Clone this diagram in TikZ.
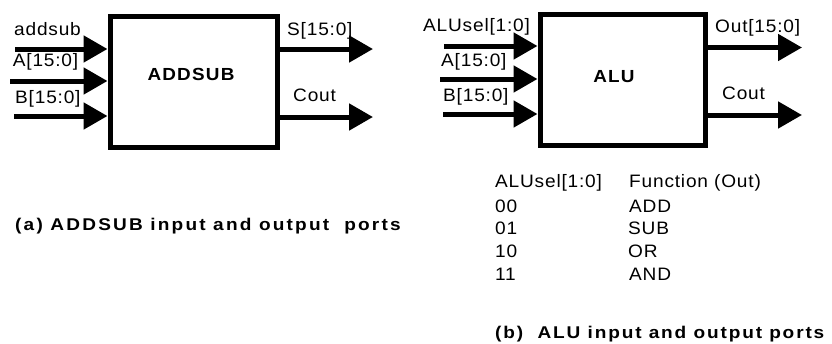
\documentclass[tikz,border=0pt]{standalone}
\usepackage{fontspec}
\newfontfamily\labfont{Liberation Sans}[FakeStretch=1.06, LetterSpace=4.5]
\newfontfamily\ttlfont{Liberation Sans}[FakeStretch=1.08, LetterSpace=7]
\newfontfamily\capfont{Liberation Sans}[FakeStretch=1.12, LetterSpace=11]
\newfontfamily\capafont{Liberation Sans}[FakeStretch=1.12, LetterSpace=13]
\usetikzlibrary{arrows.meta}
\begin{document}
\begin{tikzpicture}[x=1pt,y=-1pt,
  lab/.style={font=\labfont\fontsize{18pt}{21pt}\selectfont, inner sep=0pt, anchor=base west},
  ttl/.style={font=\ttlfont\bfseries\fontsize{17.5pt}{20pt}\selectfont, inner sep=0pt},
  captext/.style={font=\capfont\bfseries\fontsize{17pt}{20pt}\selectfont, inner sep=0pt, anchor=base west},
  captexta/.style={font=\capafont\bfseries\fontsize{17pt}{20pt}\selectfont, inner sep=0pt, anchor=base west},
  blk/.style={draw, line width=5pt, minimum height=131pt, inner sep=0pt},
  arr/.style={line width=5pt, -{Triangle[length=24pt,width=26pt]}}]
\useasboundingbox (0,0) rectangle (832,343);

% ---------- (a) ADDSUB ----------
\node[blk, minimum width=167pt] (addsubbox) at (193.5,81.5) {};
\node[ttl] (addsubtitle) at (191,74) {ADDSUB};

\coordinate (ia1) at (15,49);
\coordinate (ia2) at (10,81);
\coordinate (ia3) at (14,116);
\draw[arr] (ia1) -- (ia1 -| addsubbox.west);
\draw[arr] (ia2) -- (ia2 -| addsubbox.west);
\draw[arr] (ia3) -- (ia3 -| addsubbox.west);

\coordinate (oa1) at (373,49);
\coordinate (oa2) at (373,117);
\draw[arr] (oa1 -| addsubbox.east) -- (oa1);
\draw[arr] (oa2 -| addsubbox.east) -- (oa2);

\node[lab] (laddsub) at (14,35.5) {addsub};
\node[lab] (laA) at (12.7,66.7) {A[15:0]};
\node[lab] (laB) at (15,103) {B[15:0]};
\node[lab] (laS) at (287,35) {S[15:0]};
\node[lab] (laC) at (293,101) {Cout};

\node[captexta] (capa) at (15,230.7) {(a) ADDSUB input and output\ \ ports};

% ---------- (b) ALU ----------
\node[blk, minimum width=165pt] (alubox) at (622.5,79.5) {};
\node[ttl] (alutitle) at (614,77) {ALU};

\coordinate (ib1) at (444,46);
\coordinate (ib2) at (440,79);
\coordinate (ib3) at (443,114);
\draw[arr] (ib1) -- (ib1 -| alubox.west);
\draw[arr] (ib2) -- (ib2 -| alubox.west);
\draw[arr] (ib3) -- (ib3 -| alubox.west);

\coordinate (ob1) at (802,47.5);
\coordinate (ob2) at (802,115);
\draw[arr] (ob1 -| alubox.east) -- (ob1);
\draw[arr] (ob2 -| alubox.east) -- (ob2);

\node[lab] (lbsel) at (423,31) {ALUsel[1:0]};
\node[lab] (lbA) at (441,66.7) {A[15:0]};
\node[lab] (lbB) at (443,101.7) {B[15:0]};
\node[lab] (lbO) at (715,32.3) {Out[15:0]};
\node[lab] (lbC) at (722,99) {Cout};

% table
\node[lab] (th1) at (495,187) {ALUsel[1:0]};
\node[lab] (th2) at (629,187) {Function (Out)};
\node[lab] (r1a) at (495,212) {00};
\node[lab] (r1b) at (629,212) {ADD};
\node[lab] (r2a) at (495,234.5) {01};
\node[lab] (r2b) at (628,234.5) {SUB};
\node[lab] (r3a) at (495,257.5) {10};
\node[lab] (r3b) at (628,257.5) {OR};
\node[lab] (r4a) at (495,280.5) {11};
\node[lab] (r4b) at (629,280.5) {AND};

\node[captext] (capb) at (495,338) {(b)\ \ ALU input and output ports};
\end{tikzpicture}
\end{document}
